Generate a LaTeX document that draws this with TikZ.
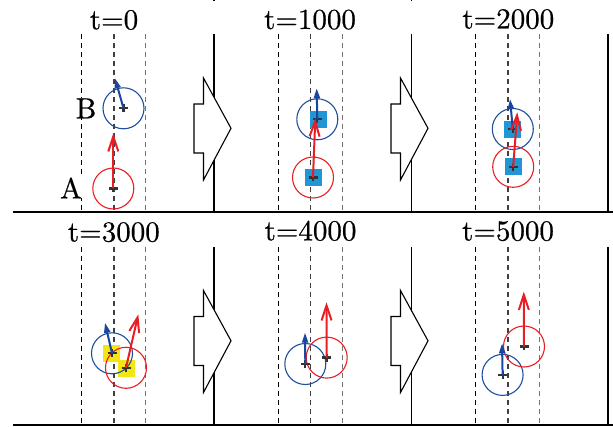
\documentclass[tikz,border=0pt]{standalone}
\usepackage{fontspec}
\newfontfamily\tfont[FakeBold=0.6]{lmroman10-regular.otf}
\usetikzlibrary{arrows.meta}
\definecolor{redc}{RGB}{232,30,36}
\definecolor{bluec}{RGB}{30,78,160}
\definecolor{barrow}{RGB}{25,70,160}
\definecolor{sqblue}{RGB}{32,150,214}
\definecolor{sqyellow}{RGB}{242,230,20}
\begin{document}
\begin{tikzpicture}[x=1pt,y=-1pt,
  frame/.style={line width=1.2pt,black},
  dl/.style={line width=1.2pt,dash pattern=on 5pt off 4pt},
  title/.style={font=\tfont\fontsize{29}{31}\selectfont,anchor=base,inner sep=0},
  lab/.style={font=\tfont\fontsize{29}{31}\selectfont,anchor=base,inner sep=0,fill=white},
  rcirc/.style={circle,draw=redc,line width=1.1pt,minimum size=41pt,inner sep=0},
  bcirc/.style={circle,draw=bluec,line width=1.1pt,minimum size=41pt,inner sep=0},
  bsq/.style={fill=sqblue,minimum size=17pt,inner sep=0},
  ysq/.style={fill=sqyellow,minimum size=17pt,inner sep=0},
  rarr/.style={draw=redc,line width=2pt,-{Straight Barb[length=15pt,width=10pt]}},
  barr/.style={draw=barrow,line width=2pt,-{Triangle[length=10pt,width=6pt]}},
  blk/.style={draw=black,line width=1.1pt,fill=white,line join=miter},
  xmark/.pic={\draw[black!80,line width=2.2pt] (-4.5,0)--(4.5,0) (0,-4)--(0,4);}
]
\useasboundingbox (0,0) rectangle (613,427);
% frames
\draw[frame] (13,212) -- (613,212);
\draw[frame] (13,425) -- (613,425);
\foreach \x in {214,411.7,608}{
  \draw[frame] (\x,34) -- (\x,212);
  \draw[frame] (\x,247) -- (\x,425);
}
\draw[frame] (214,0) -- (214,1.5);
\draw[frame] (411.7,0) -- (411.7,1.5);
% dashed lanes
\foreach \x/\y in {81.7/0,278.3/0,475.7/0,81.7/213,278.3/213,475.7/213}{
  \draw[dl,black] (\x,34+\y) -- (\x,212+\y);
  \draw[dl,black!75] (\x+32.3,34+\y) -- (\x+32.3,212+\y);
  \draw[dl,black!55] (\x+64,34+\y) -- (\x+64,212+\y);
}
% titles
\node[title] (t0) at (114,29.3) {t=0};
\node[title] (t1) at (310,29) {t=1000};
\node[title] (t2) at (508.3,28.5) {t=2000};
\node[title] (t3) at (113.8,241.5) {t=3000};
\node[title] (t4) at (310.5,240.3) {t=4000};
\node[title] (t5) at (508,240.5) {t=5000};
% block arrows
\foreach \ax/\ay in {194/0,391/0,194/212.5,391/212.5}{
  \draw[blk] (\ax+9.5,78+\ay) -- (\ax+37,128.3+\ay) -- (\ax+9.5,180+\ay) -- (\ax+9.5,153+\ay)
     -- (\ax,153+\ay) -- (\ax,104+\ay) -- (\ax+9.5,104+\ay) -- cycle;
}
% ---- t=0
\node[lab] (B) at (86,118.3) {B};
\node[lab] (A) at (71,198.3) {A};
\node[bcirc] (b0) at (123.5,108.3) {};
\node[rcirc] (r0) at (113.3,188.5) {};
\pic at (b0.center) {xmark};
\pic at (r0.center) {xmark};
\coordinate (bt0) at (115,78.3);
\coordinate (rt0) at (113.3,133.3);
\draw[barr] (b0.center) -- (bt0);
\draw[rarr] (r0.center) -- (rt0);
% ---- t=1000
\node[bsq] (bs1) at (318.5,119.3) {};
\node[bsq] (rs1) at (313.7,177.7) {};
\node[bcirc] (b1) at (317.3,119.3) {};
\node[rcirc] (r1) at (313,177.5) {};
\pic at (b1.center) {xmark};
\pic at (r1.center) {xmark};
\coordinate (bt1) at (316.7,88.3);
\coordinate (rt1) at (315.3,118.3);
\draw[barr] (b1.center) -- (bt1);
\draw[rarr] (r1.center) -- (rt1);
% ---- t=2000
\node[bsq] (bs2) at (512.7,129.3) {};
\node[bsq] (rs2) at (513.7,166.7) {};
\node[bcirc] (b2) at (512.8,129) {};
\node[rcirc] (r2) at (513.2,166.8) {};
\pic at (b2.center) {xmark};
\pic at (r2.center) {xmark};
\coordinate (bt2) at (510,99);
\coordinate (rt2) at (517.3,112.3);
\draw[barr] (b2.center) -- (bt2);
\draw[rarr] (r2.center) -- (rt2);
% ---- t=3000
\node[ysq] (bs3) at (111.7,353.3) {};
\node[ysq] (rs3) at (126.3,368.3) {};
\node[bcirc] (b3) at (112,353.3) {};
\node[rcirc] (r3) at (126,367.8) {};
\pic at (b3.center) {xmark};
\pic at (r3.center) {xmark};
\coordinate (bt3) at (105,322.7);
\coordinate (rt3) at (138.3,314.3);
\draw[barr] (b3.center) -- (bt3);
\draw[rarr] (r3.center) -- (rt3);
% ---- t=4000
\node[bcirc] (b4) at (305.3,364) {};
\node[rcirc] (r4) at (326.7,357.6) {};
\pic at (b4.center) {xmark};
\pic at (r4.center) {xmark};
\coordinate (bt4) at (305,332.7);
\coordinate (rt4) at (326.5,302.3);
\draw[barr] (b4.center) -- (bt4);
\draw[rarr] (r4.center) -- (rt4);
% ---- t=5000
\node[bcirc] (b5) at (502.6,374.9) {};
\node[rcirc] (r5) at (524,346.5) {};
\pic at (b5.center) {xmark};
\pic at (r5.center) {xmark};
\coordinate (bt5) at (502,343.3);
\coordinate (rt5) at (523.8,291.7);
\draw[barr] (b5.center) -- (bt5);
\draw[rarr] (r5.center) -- (rt5);
\end{tikzpicture}
\end{document}
